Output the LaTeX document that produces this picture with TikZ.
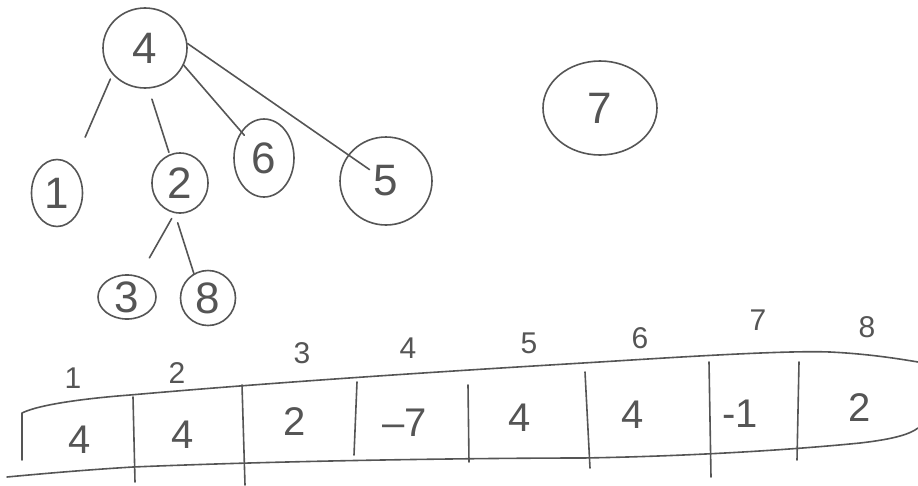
\documentclass[tikz,border=0pt]{standalone}
\usepackage{fontspec}
\setmainfont{Liberation Sans}
\usetikzlibrary{shapes.geometric}
\definecolor{pencil}{RGB}{85,85,85}
\tikzset{
  pen/.style={draw=pencil, line width=1.6pt, line cap=round, line join=round},
  vert/.style={pen, ellipse, inner sep=0pt, text=pencil, font=\fontsize{44}{46}\selectfont},
  edge/.style={pen},
  val/.style={text=pencil, inner sep=0pt, font=\fontsize{40}{42}\selectfont},
  idx/.style={text=pencil, inner sep=0pt, font=\fontsize{30}{32}\selectfont},
}
\begin{document}
\begin{tikzpicture}[x=1pt,y=-1pt]
\useasboundingbox (0,0) rectangle (918,485);
% tree nodes
\node[vert, minimum width=84pt, minimum height=80pt] (n4) at (145,48) {4};
\node[vert, minimum width=51pt, minimum height=67pt] (n1) at (57,193) {1};
\node[vert, minimum width=56pt, minimum height=60pt] (n2) at (180,183) {2};
\node[vert, minimum width=60pt, minimum height=78pt] (n6) at (264,158) {6};
\node[vert, minimum width=92pt, minimum height=88pt] (n5) at (386,181) {5};
\node[vert, minimum width=58pt, minimum height=44pt] (n3) at (127,297) {3};
\node[vert, minimum width=55pt, minimum height=55pt] (n8) at (208,298) {8};
\node[vert, minimum width=114pt, minimum height=94pt] (n7) at (600,108) {7};
% edges
\draw[edge, shorten <=5pt, shorten >=31pt] (n4.219) -- (n1.60);
\draw[edge, shorten <=11pt, shorten >=2pt] (n4.-85) -- (n2.110);
\draw[edge, shorten >=30pt] (n4.-24) -- (n6.center);
\draw[edge, shorten >=20pt] (n4.6) -- (n5.center);
\draw[edge, shorten <=6pt, shorten >=21pt] (n2.-100) -- (n3.60);
\draw[edge, shorten <=10pt] (n2.-100) -- (n8.120);
% array outline
\draw[pen] (22,460) -- (22,413) .. controls (40,404) and (90,398) .. (130,395)
  .. controls (300,380) and (500,368) .. (583,363)
  .. controls (650,359) and (780,350) .. (830,352)
  .. controls (870,354) and (900,359) .. (918,362);
\draw[pen] (7,477) .. controls (60,472) and (100,469) .. (133,467)
  .. controls (300,460) and (500,458) .. (583,458)
  .. controls (700,456) and (800,449) .. (860,443)
  .. controls (895,439) and (910,434) .. (918,428);
% dividers
\draw[pen] (133,397) -- (135,482);
\draw[pen] (242,385) -- (245,485);
\draw[pen] (357,382) -- (354,455);
\draw[pen] (468,385) -- (469,462);
\draw[pen] (585,372) -- (590,468);
\draw[pen] (709,362) -- (711,477);
\draw[pen] (799,362) -- (797,460);
% index labels
\node[idx] (i1) at (73,378) {1};
\node[idx] (i2) at (177,373) {2};
\node[idx] (i3) at (302,353) {3};
\node[idx] (i4) at (408,348) {4};
\node[idx] (i5) at (529,343) {5};
\node[idx] (i6) at (640,338) {6};
\node[idx] (i7) at (758,320) {7};
\node[idx] (i8) at (867,327) {8};
% values
\node[val] (v1) at (80,440) {4};
\node[val] (v2) at (183,435) {4};
\node[val] (v3) at (295,422) {2};
\node[val] (v4) at (405,423) {–7};
\node[val] (v5) at (520,418) {4};
\node[val] (v6) at (633,415) {4};
\node[val] (v7) at (740,414) {-1};
\node[val] (v8) at (860,408) {2};
\end{tikzpicture}
\end{document}
